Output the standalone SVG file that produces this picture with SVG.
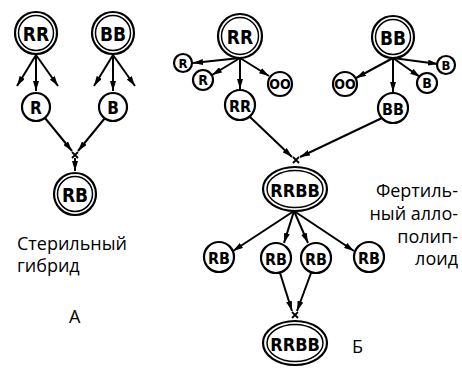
<svg xmlns="http://www.w3.org/2000/svg" width="462" height="377" viewBox="0 0 462 377">
<style>
.c{fill:#fff;stroke:#000;stroke-width:2.2}
.ci{fill:none;stroke:#000;stroke-width:1.5}
.l{font-family:"DejaVu Sans","Liberation Sans",sans-serif;font-stretch:condensed;font-weight:bold;fill:#000;text-anchor:middle;dominant-baseline:central}
.t{font-family:"Open Sans","Noto Sans",sans-serif;font-size:18px;fill:#000}
.e{stroke:#000;stroke-width:2;fill:none;marker-end:url(#a)}
.x{stroke:#000;stroke-width:1.8}
</style>
<defs>
<marker id="a" viewBox="0 0 10 6" refX="10" refY="3" markerWidth="10" markerHeight="6" markerUnits="userSpaceOnUse" orient="auto">
<path d="M0,0 L10,3 L0,6 Z" fill="#000"/>
</marker>
</defs>
<g id="connectors">
<line class="e" x1="36" y1="55" x2="17" y2="86"/>
<line class="e" x1="36" y1="55" x2="36" y2="91"/>
<line class="e" x1="36" y1="55" x2="58" y2="86"/>
<line class="e" x1="113" y1="55" x2="94" y2="86"/>
<line class="e" x1="113" y1="55" x2="113" y2="91"/>
<line class="e" x1="113" y1="55" x2="135" y2="86"/>
<line class="e" x1="45" y1="118" x2="72" y2="151"/>
<line class="e" x1="105" y1="118" x2="78" y2="151"/>
<line class="e" x1="75" y1="158" x2="75" y2="171"/>
<line class="e" x1="240" y1="58" x2="193" y2="63"/>
<line class="e" x1="240" y1="58" x2="212" y2="75"/>
<line class="e" x1="240" y1="58" x2="240" y2="89"/>
<line class="e" x1="240" y1="58" x2="269" y2="76"/>
<line class="e" x1="393" y1="58" x2="356" y2="78"/>
<line class="e" x1="393" y1="58" x2="393" y2="92"/>
<line class="e" x1="393" y1="58" x2="420" y2="77"/>
<line class="e" x1="393" y1="58" x2="438" y2="64"/>
<line class="e" x1="250" y1="117" x2="292" y2="157"/>
<line class="e" x1="382" y1="118" x2="300" y2="157"/>
<line class="e" x1="294" y1="211" x2="233" y2="251"/>
<line class="e" x1="294" y1="211" x2="284" y2="243"/>
<line class="e" x1="294" y1="211" x2="308" y2="243"/>
<line class="e" x1="294" y1="211" x2="354" y2="251"/>
<line class="e" x1="280" y1="273" x2="292" y2="311"/>
<line class="e" x1="311" y1="273" x2="297" y2="311"/>
<path class="x" d="M72,152 L78,158 M78,152 L72,158"/>
<path class="x" d="M293,157 L299,163 M299,157 L293,163"/>
<path class="x" d="M292,312 L298,318 M298,312 L292,318"/>
</g>
<g id="A_RR"><circle class="c" cx="36" cy="33" r="21"/><circle class="ci" cx="36" cy="33" r="17.5"/><text class="l" x="36" y="34" font-size="19">RR</text></g>
<g id="A_BB"><circle class="c" cx="113" cy="33" r="21"/><circle class="ci" cx="113" cy="33" r="17.5"/><text class="l" x="113" y="34" font-size="19">BB</text></g>
<g id="A_R"><circle class="c" cx="36" cy="107" r="14"/><text class="l" x="36" y="108" font-size="17">R</text></g>
<g id="A_B"><circle class="c" cx="113" cy="107" r="14"/><text class="l" x="113" y="108" font-size="17">B</text></g>
<g id="A_RB"><circle class="c" cx="75" cy="194" r="21"/><circle class="ci" cx="75" cy="194" r="17.5"/><text class="l" x="75" y="195" font-size="19">RB</text></g>
<g id="A_label"><text class="t" x="17" y="250">Стерильный</text><text class="t" x="17" y="272">гибрид</text><text class="t" x="69" y="323">А</text></g>
<g id="B_RR"><circle class="c" cx="240" cy="36" r="22"/><circle class="ci" cx="240" cy="36" r="18.5"/><text class="l" x="240" y="37" font-size="19">RR</text></g>
<g id="B_BB"><circle class="c" cx="393" cy="37" r="21"/><circle class="ci" cx="393" cy="37" r="17.5"/><text class="l" x="393" y="38" font-size="19">BB</text></g>
<g id="B_R1"><circle class="c" cx="183" cy="63" r="9"/><text class="l" x="183" y="63" font-size="13">R</text></g>
<g id="B_R2"><circle class="c" cx="203" cy="80" r="10"/><text class="l" x="203" y="80" font-size="14">R</text></g>
<g id="B_OO1"><circle class="c" cx="280" cy="84" r="12"/><text class="l" x="280" y="84" font-size="14">OO</text></g>
<g id="B_RRs"><circle class="c" cx="240" cy="105" r="15"/><text class="l" x="240" y="106" font-size="16">RR</text></g>
<g id="B_OO2"><circle class="c" cx="345" cy="84" r="12"/><text class="l" x="345" y="84" font-size="14">OO</text></g>
<g id="B_BBs"><circle class="c" cx="393" cy="108" r="15"/><text class="l" x="393" y="109" font-size="16">BB</text></g>
<g id="B_B1"><circle class="c" cx="427" cy="83" r="10"/><text class="l" x="427" y="83" font-size="14">B</text></g>
<g id="B_B2"><circle class="c" cx="446" cy="65" r="9"/><text class="l" x="446" y="65" font-size="13">B</text></g>
<g id="B_RRBB1"><ellipse class="c" cx="295" cy="189" rx="32" ry="22"/><ellipse class="ci" cx="295" cy="189" rx="28" ry="18.5"/><text class="l" x="295" y="190" font-size="18">RRBB</text></g>
<g id="B_RB1"><circle class="c" cx="219" cy="257" r="15"/><text class="l" x="219" y="258" font-size="16">RB</text></g>
<g id="B_RB2"><circle class="c" cx="276" cy="258" r="15"/><text class="l" x="276" y="259" font-size="16">RB</text></g>
<g id="B_RB3"><circle class="c" cx="316" cy="258" r="15"/><text class="l" x="316" y="259" font-size="16">RB</text></g>
<g id="B_RB4"><circle class="c" cx="369" cy="257" r="15"/><text class="l" x="369" y="258" font-size="16">RB</text></g>
<g id="B_RRBB2"><ellipse class="c" cx="295" cy="343" rx="32" ry="22"/><ellipse class="ci" cx="295" cy="343" rx="28" ry="18.5"/><text class="l" x="295" y="344" font-size="18">RRBB</text></g>
<g id="B_label"><text class="t" x="458" y="197" text-anchor="end">Фертиль-</text><text class="t" x="458" y="220" text-anchor="end">ный алло-</text><text class="t" x="458" y="243" text-anchor="end">полип-</text><text class="t" x="458" y="265" text-anchor="end">лоид</text><text class="t" x="352" y="353">Б</text></g>
</svg>
